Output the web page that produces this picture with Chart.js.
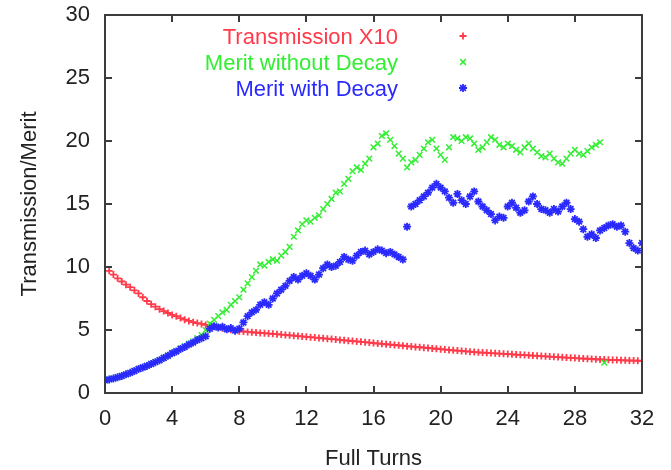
<!DOCTYPE html>
<html>
<head>
<meta charset="utf-8">
<script src="https://cdn.jsdelivr.net/npm/chart.js@4/dist/chart.umd.min.js"></script>
<style>
  body { margin: 0; background: #fff; }
  #wrap { width: 671px; height: 470px; }
  #myChart { filter: blur(0.5px); }
</style>
</head>
<body>
<div id="wrap"><canvas id="myChart" width="671" height="470"></canvas></div>
<script>
// sample spacing along x (full turns between samples)
const turnStep = 0.25;

const xTicks = [0, 4, 8, 12, 16, 20, 24, 28, 32];
const yTicks = [0, 5, 10, 15, 20, 25, 30];

const seriesNames = ["Transmission X10", "Merit without Decay", "Merit with Decay"];

// Transmission x10 (0 .. 32 turns)
const transmission = [
  10.0, 9.7, 9.4, 9.1, 8.85, 8.6, 8.4, 8.15, 7.9,
  7.6, 7.3, 7.05, 6.85, 6.65, 6.5, 6.35, 6.2,
  6.1, 5.95, 5.82, 5.72, 5.62, 5.55, 5.48, 5.4,
  5.33, 5.27, 5.2, 5.13, 5.07, 5.02, 4.96, 4.91,
  4.88, 4.85, 4.82, 4.8, 4.77, 4.75, 4.72, 4.7,
  4.67, 4.64, 4.61, 4.58, 4.55, 4.52, 4.49, 4.46,
  4.43, 4.4, 4.37, 4.34, 4.31, 4.28, 4.25, 4.21,
  4.18, 4.15, 4.12, 4.09, 4.06, 4.03, 4.0, 3.96,
  3.93, 3.9, 3.87, 3.84, 3.81, 3.78, 3.75, 3.72,
  3.69, 3.66, 3.63, 3.6, 3.57, 3.54, 3.51, 3.48,
  3.45, 3.42, 3.39, 3.37, 3.34, 3.31, 3.28, 3.25,
  3.23, 3.21, 3.19, 3.17, 3.15, 3.13, 3.11, 3.09,
  3.07, 3.05, 3.03, 3.01, 2.99, 2.97, 2.95, 2.93,
  2.91, 2.89, 2.87, 2.85, 2.83, 2.81, 2.79, 2.77,
  2.75, 2.73, 2.72, 2.7, 2.68, 2.66, 2.65, 2.63,
  2.62, 2.61, 2.6, 2.59, 2.58, 2.57, 2.56, 2.55
];

// Merit without decay (0 .. 29.5 turns)
const meritNoDecay = [
  1.0, 1.08, 1.15, 1.25, 1.35, 1.48, 1.6, 1.75, 1.92,
  2.05, 2.18, 2.32, 2.48, 2.62, 2.8, 2.98, 3.18,
  3.35, 3.55, 3.72, 3.92, 4.1, 4.35, 4.6, 5.0,
  5.5, 5.8, 6.1, 6.4, 6.6, 7.0, 7.3, 7.6,
  8.2, 8.7, 9.2, 9.7, 10.2, 10.1, 10.4, 10.6,
  10.5, 10.9, 11.2, 11.6, 12.4, 12.9, 13.4, 13.7,
  13.6, 13.9, 14.1, 14.6, 15.0, 15.4, 15.9, 16.0,
  16.6, 17.0, 17.6, 17.9, 17.7, 18.2, 18.6, 19.5,
  19.8, 20.4, 20.6, 20.1, 19.6, 19.0, 18.6, 17.9,
  18.3, 18.5, 18.9, 19.4, 19.9, 20.1, 19.4, 18.9,
  18.5, 19.5, 20.3, 20.2, 20.0, 20.3, 20.2, 19.8,
  19.3, 19.5, 19.9, 20.3, 20.1, 19.7, 19.5, 19.8,
  19.6, 19.3, 19.1, 19.5, 19.8, 19.4, 19.1, 18.8,
  18.7, 19.0, 18.6, 18.3, 18.2, 18.6, 19.0, 19.3,
  19.0, 18.9, 19.2, 19.5, 19.7, 19.9
];
// one lone point near the end
const meritNoDecayExtraX = [29.75];
const meritNoDecayExtraY = [2.4];

// Merit with decay (0 .. 32 turns)
const meritDecay = [
  1.0, 1.08, 1.15, 1.25, 1.35, 1.48, 1.6, 1.75, 1.9,
  2.02, 2.15, 2.3, 2.45, 2.6, 2.78, 2.95, 3.15,
  3.3, 3.5, 3.65, 3.85, 4.0, 4.2, 4.35, 4.5,
  5.1, 5.3, 5.2, 5.25, 5.05, 5.15, 4.95, 5.1,
  5.6, 6.1, 6.4, 6.6, 7.0, 7.2, 7.0, 7.5,
  7.9, 8.2, 8.5, 8.9, 9.2, 9.0, 9.3, 9.5,
  9.3, 9.0, 9.4, 9.9, 10.2, 10.0, 10.1, 10.4,
  10.8, 10.6, 10.5, 10.9, 11.2, 11.3, 11.0, 11.2,
  11.4, 11.3, 11.1, 11.2, 11.0, 10.8, 10.6, 13.2,
  14.8, 15.0, 15.3, 15.6, 15.9, 16.3, 16.6, 16.3,
  16.0, 15.5, 15.1, 15.8, 15.3, 15.0, 15.6, 16.0,
  15.2, 14.8, 14.5, 14.2, 13.7, 14.0, 13.9, 14.8,
  15.1, 14.7, 14.3, 14.5, 15.2, 15.6, 15.0, 14.6,
  14.5, 14.3, 14.6, 14.4, 14.8, 15.1, 14.6, 13.8,
  13.6, 13.0, 12.4, 12.6, 12.3, 12.9, 13.1, 13.3,
  13.4, 13.2, 13.3, 12.8, 11.9, 11.5, 11.3, 11.9
];

const toPoints = (arr) => arr.map((v, i) => ({ x: i * turnStep, y: v }));

const greenPoints = toPoints(meritNoDecay).concat(
  meritNoDecayExtraX.map((x, i) => ({ x: x, y: meritNoDecayExtraY[i] }))
);

const FONT = "'Liberation Sans', Arial, Helvetica, sans-serif";
const frameColor = "#3c3c3c";

// gnuplot-like frame with inward ticks on all four sides
function drawFrame(chart) {
  const ctx = chart.ctx;
  const xs = chart.scales.x, ys = chart.scales.y;
  const L = Math.round(xs.left), R = Math.round(xs.right);
  const T = Math.round(ys.top), B = Math.round(ys.bottom);
  const tl = 7;
  ctx.save();
  ctx.fillStyle = frameColor;
  ctx.fillRect(L - 1, T - 1, R - L + 2, 2);
  ctx.fillRect(L - 1, B - 1, R - L + 2, 2);
  ctx.fillRect(L - 1, T - 1, 2, B - T + 2);
  ctx.fillRect(R - 1, T - 1, 2, B - T + 2);
  xTicks.forEach((t) => {
    const px = Math.round(xs.getPixelForValue(t));
    ctx.fillRect(px - 1, B - tl, 2, tl);
    ctx.fillRect(px - 1, T, 2, tl);
  });
  yTicks.forEach((t) => {
    const py = Math.round(ys.getPixelForValue(t));
    ctx.fillRect(L, py - 1, tl, 2);
    ctx.fillRect(R - tl, py - 1, tl, 2);
  });
  ctx.restore();
}

// key: right-justified text followed by the point sample
function markSample(ctx, style, x, y, r) {
  ctx.beginPath();
  if (style === "cross" || style === "star") {
    ctx.moveTo(x - r, y); ctx.lineTo(x + r, y);
    ctx.moveTo(x, y - r); ctx.lineTo(x, y + r);
  }
  if (style === "crossRot" || style === "star") {
    const d = r * 0.72;
    ctx.moveTo(x - d, y - d); ctx.lineTo(x + d, y + d);
    ctx.moveTo(x - d, y + d); ctx.lineTo(x + d, y - d);
  }
  ctx.stroke();
}

const gnuKey = {
  id: "gnuKey",
  afterDraw(chart) {
    drawFrame(chart);
    const { ctx } = chart;
    const textRight = 398, markX = 463;
    const baselines = [44, 70, 96];
    ctx.save();
    ctx.font = "22px " + FONT;
    ctx.textAlign = "right";
    ctx.textBaseline = "alphabetic";
    chart.data.datasets.forEach((ds, i) => {
      ctx.fillStyle = ds.borderColor;
      ctx.fillText(ds.label, textRight, baselines[i]);
      ctx.strokeStyle = ds.borderColor;
      ctx.lineWidth = ds.pointBorderWidth;
      markSample(ctx, ds.pointStyle, markX, baselines[i] - 8, ds.pointRadius);
    });
    ctx.restore();
  },
};

// no label overhang padding, the layout padding below places the plot box
function noOverhang(scale) {
  scale.paddingTop = 0;
  scale.paddingBottom = 0;
  scale.paddingLeft = 0;
  scale.paddingRight = 0;
}

const ctxEl = document.getElementById("myChart");

new Chart(ctxEl, {
  type: "scatter",
  data: {
    datasets: [
      {
        label: seriesNames[0],
        data: toPoints(transmission),
        pointStyle: "cross",
        pointRadius: 3.5,
        pointBorderWidth: 1.8,
        borderColor: "#ff3a4a",
        backgroundColor: "#ff3a4a",
        order: 3,
      },
      {
        label: seriesNames[1],
        data: greenPoints,
        pointStyle: "crossRot",
        pointRadius: 4,
        pointBorderWidth: 1.5,
        borderColor: "#33ee33",
        backgroundColor: "#33ee33",
        order: 2,
      },
      {
        label: seriesNames[2],
        data: toPoints(meritDecay),
        pointStyle: "star",
        pointRadius: 4,
        pointBorderWidth: 1.8,
        borderColor: "#2a2aff",
        backgroundColor: "#2a2aff",
        order: 1,
      },
    ],
  },
  options: {
    responsive: false,
    animation: false,
    events: [],
    layout: { padding: { top: 15, right: 29, bottom: 0, left: 0 } },
    scales: {
      x: {
        type: "linear",
        min: 0,
        max: 32,
        afterBuildTicks: (scale) => { scale.ticks = xTicks.map((v) => ({ value: v })); },
        afterFit: (scale) => { scale.height = 77; noOverhang(scale); },
        grid: { display: false, drawTicks: false },
        border: { display: false },
        ticks: { color: "#222", padding: 13, font: { size: 22, family: FONT } },
        title: {
          display: true,
          text: "Full Turns",
          color: "#222",
          padding: { top: 0, bottom: -2 },
          font: { size: 22, family: FONT },
        },
      },
      y: {
        type: "linear",
        min: 0,
        max: 30,
        afterBuildTicks: (scale) => { scale.ticks = yTicks.map((v) => ({ value: v })); },
        afterFit: (scale) => { scale.width = 105; noOverhang(scale); },
        grid: { display: false, drawTicks: false },
        border: { display: false },
        ticks: { color: "#222", padding: 15, font: { size: 22, family: FONT } },
        title: {
          display: true,
          text: "Transmission/Merit",
          color: "#222",
          padding: { top: 17, bottom: 0 },
          font: { size: 22, family: FONT },
        },
      },
    },
    plugins: {
      legend: { display: false },
      tooltip: { enabled: false },
    },
  },
  plugins: [gnuKey],
});
</script>
</body>
</html>
